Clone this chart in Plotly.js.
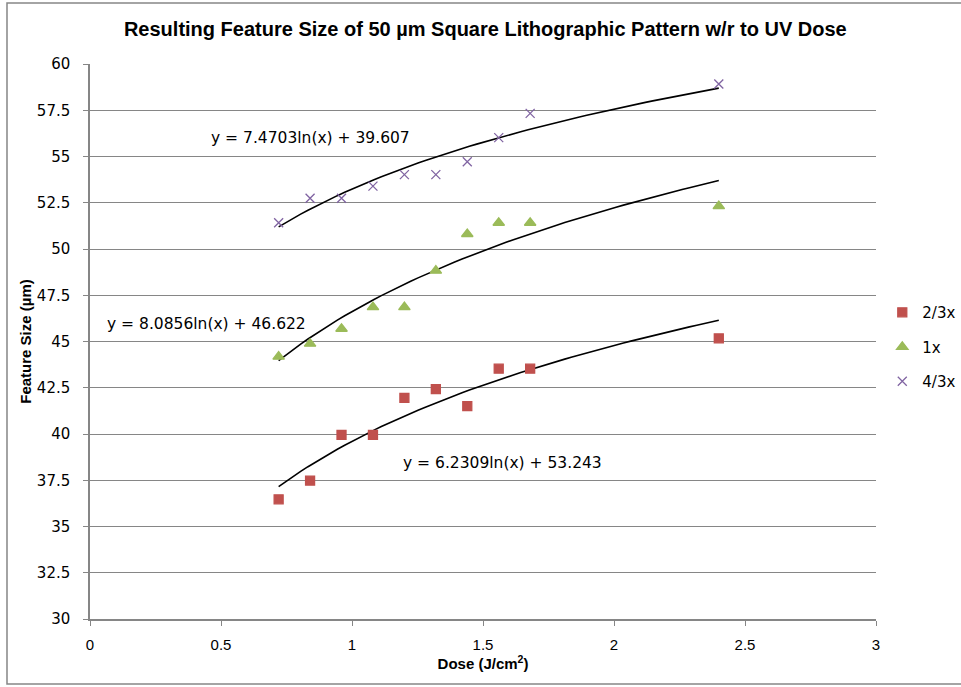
<!DOCTYPE html>
<html><head><meta charset="utf-8">
<script src="https://cdn.plot.ly/plotly-3.0.1.min.js"></script>
<style>html,body{margin:0;padding:0;background:#fff}#chart{width:961px;height:687px}</style>
</head><body><div id="chart"></div>
<script>
const dose = [0.72, 0.84, 0.96, 1.08, 1.2, 1.32, 1.44, 1.56, 1.68, 2.4];
const size23 = [36.47, 37.48, 39.95, 39.95, 41.95, 42.43, 41.51, 43.53, 43.53, 45.17];
const size1 = [44.18, 44.88, 45.69, 46.86, 46.86, 48.83, 50.81, 51.42, 51.42, 52.32];
const size43 = [51.42, 52.74, 52.74, 53.40, 54.02, 54.02, 54.72, 56.02, 57.33, 58.92];
const seriesNames = ['2/3x', '1x', '4/3x'];
// trendline coefficients y = a ln(x) + b, as drawn for 2/3x, 1x, 4/3x
const trendA = [7.4703, 8.0856, 6.2309];
const trendB = [39.607, 46.622, 53.243];
const trendLabels = ['y = 7.4703ln(x) + 39.607', 'y = 8.0856ln(x) + 46.622', 'y = 6.2309ln(x) + 53.243'];
const labelX = [0.84, 0.443, 1.573];
const labelY = [56.0, 45.95, 38.43];

const colors = ['#C0504D', '#9BBB59', '#8064A2'];
const symbols = ['square', 'triangle-up', 'x-thin-open'];
const sizes = [9, 10, 9];
const ys = [size23, size1, size43];

const traces = [];
for (let i = 0; i < 3; i++) {
  const xs = [], yt = [];
  const x0 = Math.min(...dose), x1 = Math.max(...dose);
  for (let k = 0; k <= 60; k++) { const x = x0 + (x1 - x0) * k / 60; xs.push(x); yt.push(trendA[i] * Math.log(x) + trendB[i]); }
  traces.push({x: xs, y: yt, mode: 'lines', line: {color: '#000', width: 1.6}, showlegend: false, hoverinfo: 'skip'});
}
for (let i = 0; i < 3; i++) {
  traces.push({x: dose, y: ys[i], mode: 'markers', name: seriesNames[i], legendgroup: 'g' + i,
    marker: {symbol: symbols[i], size: sizes[i], color: colors[i], line: {color: colors[i], width: 1.3}}});
}

const annotations = trendLabels.map((t, i) => ({x: labelX[i], y: labelY[i], text: t, showarrow: false,
  font: {family: 'DejaVu Sans', size: 15.5, color: '#000'}}));

const layout = {
  width: 961, height: 687,
  margin: {l: 90, r: 85, t: 64, b: 68, autoexpand: false},
  paper_bgcolor: '#fff', plot_bgcolor: '#fff',
  title: {text: 'Resulting Feature Size of 50 µm Square Lithographic Pattern w/r to UV Dose',
    font: {family: 'Liberation Sans', size: 20, color: '#000', weight: 'bold'},
    x: 0.505, xanchor: 'center', y: 0.958, yanchor: 'middle'},
  xaxis: {range: [0, 3], dtick: 0.5, tick0: 0, showgrid: false, zeroline: false,
    showline: true, linecolor: '#868686', linewidth: 1.5, ticks: 'outside', ticklen: 5, tickcolor: '#868686',
    ticklabelstandoff: 6,
    tickfont: {family: 'Liberation Sans', size: 15, color: '#000'},
    title: {text: 'Dose (J/cm<sup>2</sup>)', font: {family: 'Liberation Sans', size: 15, color: '#000', weight: 'bold'}, standoff: 6}},
  yaxis: {range: [30, 60], dtick: 2.5, tick0: 30, showgrid: true, gridcolor: '#868686', gridwidth: 1.3, zeroline: false,
    showline: true, linecolor: '#868686', linewidth: 1.5, ticks: 'outside', ticklen: 5, tickcolor: '#868686',
    ticklabelstandoff: 10,
    tickfont: {family: 'DejaVu Sans', size: 15, color: '#000'},
    title: {text: 'Feature Size (µm)', font: {family: 'Liberation Sans', size: 15, color: '#000', weight: 'bold'}, standoff: 2}},
  legend: {x: 1.008, y: 0.49, xanchor: 'left', yanchor: 'middle', font: {family: 'DejaVu Sans', size: 15, color: '#000'},
    tracegroupgap: 12, itemwidth: 30, bgcolor: 'rgba(0,0,0,0)'},
  annotations: annotations,
  shapes: [{type: 'rect', xref: 'paper', yref: 'paper', x0: -0.1056, x1: 1.2, y0: -0.117, y1: 1.11,
    line: {color: '#868686', width: 1.5}, fillcolor: 'rgba(0,0,0,0)'}]
};
Plotly.newPlot('chart', traces, layout, {displayModeBar: false});
</script></body></html>
